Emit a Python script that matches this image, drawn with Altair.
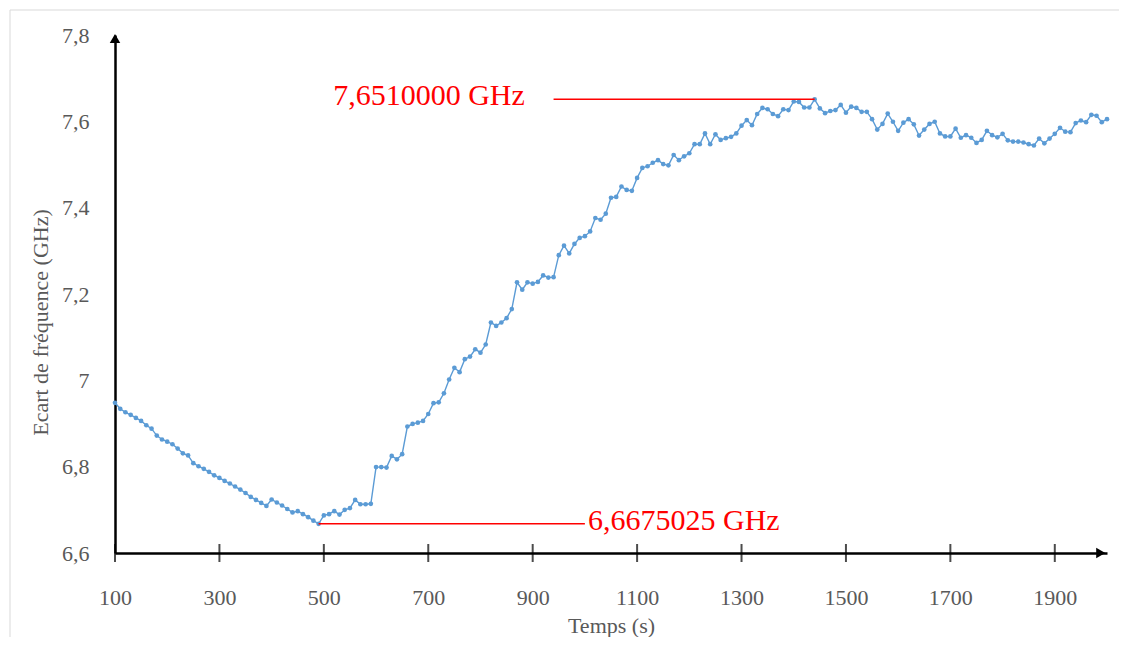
import altair as alt
import pandas as pd

# Sampling times (s), every 10 s from 100 to 2000
times = list(range(100, 2001, 10))

# Frequency deviation (GHz)
freq = [
    6.948, 6.934, 6.926, 6.920, 6.913, 6.906, 6.896, 6.888, 6.872, 6.863,
    6.858, 6.852, 6.842, 6.831, 6.826, 6.808, 6.801, 6.795, 6.788, 6.780,
    6.774, 6.767, 6.761, 6.754, 6.747, 6.739, 6.730, 6.723, 6.716, 6.709,
    6.724, 6.717, 6.710, 6.702, 6.694, 6.697, 6.690, 6.683, 6.675, 6.6675025,
    6.687, 6.690, 6.697, 6.689, 6.700, 6.704, 6.723, 6.713, 6.713, 6.714,
    6.799, 6.799, 6.798, 6.825, 6.817, 6.829, 6.893, 6.899, 6.902, 6.906,
    6.922, 6.947, 6.949, 6.970, 7.002, 7.029, 7.019, 7.049, 7.055, 7.072,
    7.064, 7.083, 7.134, 7.126, 7.134, 7.144, 7.165,
    7.227, 7.210, 7.227, 7.224, 7.228, 7.243, 7.238, 7.239, 7.290, 7.312,
    7.294, 7.316, 7.330, 7.334, 7.345, 7.376, 7.372, 7.386, 7.423, 7.425,
    7.449, 7.441, 7.439, 7.469, 7.492, 7.496, 7.504, 7.510, 7.501, 7.498,
    7.522, 7.510, 7.519, 7.526, 7.547, 7.547,
    7.572, 7.547, 7.570, 7.557, 7.561, 7.564, 7.572, 7.590, 7.603, 7.591,
    7.617, 7.631, 7.628, 7.617, 7.612, 7.628, 7.626, 7.646, 7.645, 7.632,
    7.632, 7.651, 7.630, 7.619, 7.624, 7.626, 7.638, 7.620, 7.634, 7.631,
    7.622, 7.622, 7.605, 7.581, 7.594, 7.618, 7.599, 7.578, 7.597, 7.605,
    7.593, 7.567, 7.581, 7.594, 7.599, 7.572, 7.565, 7.565, 7.583, 7.562,
    7.568, 7.562, 7.550, 7.557, 7.578, 7.568, 7.563, 7.571, 7.556, 7.553,
    7.553, 7.551, 7.547, 7.544, 7.560, 7.549, 7.560, 7.571, 7.585, 7.576,
    7.575, 7.596, 7.602, 7.598, 7.615, 7.613, 7.598, 7.605,
]

x_ticks = [100, 300, 500, 700, 900, 1100, 1300, 1500, 1700, 1900]
y_ticks = [6.6, 6.8, 7.0, 7.2, 7.4, 7.6, 7.8]

# Annotations: extreme points, leader-line far ends and labels
ann_t = [1440, 490]
ann_v = [7.651, 6.6675025]
ann_end = [940, 1000]
ann_text = ["7,6510000 GHz", "6,6675025 GHz"]
ann_text_t = [885, 1006]
ann_align = ["right", "left"]

FONT = "Liberation Serif"
GRAY = "#595959"
BLUE = "#5B9BD5"

df = pd.DataFrame({"t": times, "f": freq})
ann = pd.DataFrame({"t": ann_t, "v": ann_v, "end": ann_end,
                    "label": ann_text, "tt": ann_text_t, "align": ann_align})
ticks_df = pd.DataFrame({"t": x_ticks})

xscale = alt.Scale(domain=[100, 2000], nice=False, zero=False)
yscale = alt.Scale(domain=[6.6, 7.8], nice=False, zero=False)

x_enc = alt.X("t:Q", scale=xscale, title="Temps (s)",
              axis=alt.Axis(values=x_ticks, format="d", ticks=False, grid=False,
                            domainColor="black", domainWidth=2.5,
                            labelFont=FONT, labelFontSize=22, labelColor=GRAY,
                            labelPadding=34, labelFlush=False,
                            titleFont=FONT, titleFontSize=22, titleColor=GRAY,
                            titleFontWeight="normal", titlePadding=7))
y_enc = alt.Y("f:Q", scale=yscale, title="Ecart de fréquence (GHz)",
              axis=alt.Axis(values=y_ticks, ticks=False, grid=False,
                            domainColor="black", domainWidth=2.5,
                            labelFont=FONT, labelFontSize=22, labelColor=GRAY,
                            labelPadding=26,
                            labelExpr="replace(format(datum.value, '.1~f'), '.', ',')",
                            titleFont=FONT, titleFontSize=22, titleColor=GRAY,
                            titleFontWeight="normal",
                            titleX=-75, titleY=287, titleAngle=270,
                            titleAlign="center", titleBaseline="middle"))

border = alt.Chart(pd.DataFrame({"a": [0]})).mark_rect(
    fill=None, stroke="#d9d9d9", strokeWidth=1
).encode(x=alt.value(-105), x2=alt.value(1006), y=alt.value(-25), y2=alt.value(640))

line = alt.Chart(df).mark_line(color=BLUE, strokeWidth=1.4).encode(x=x_enc, y=y_enc)
pts = alt.Chart(df).mark_circle(color=BLUE, size=22, opacity=1).encode(x="t:Q", y="f:Q")

xt = alt.Chart(ticks_df).mark_tick(orient="vertical", size=18, thickness=2, color="black").encode(
    x="t:Q", y=alt.datum(6.6))

arrow_up = alt.Chart(pd.DataFrame({"a": [0]})).mark_point(
    shape="triangle-up", filled=True, color="black", size=110, opacity=1
).encode(x=alt.datum(100), y=alt.datum(7.792))
arrow_right = alt.Chart(pd.DataFrame({"a": [0]})).mark_point(
    shape="triangle-right", filled=True, color="black", size=110, opacity=1
).encode(x=alt.datum(1988), y=alt.datum(6.6))

rules = alt.Chart(ann).mark_rule(color="red", strokeWidth=1.5).encode(
    x="t:Q", x2="end:Q", y="v:Q")
txt_r = alt.Chart(ann[ann["align"] == "right"]).mark_text(
    color="red", font=FONT, fontSize=30, align="right", baseline="middle", dy=-3
).encode(x="tt:Q", y="v:Q", text="label:N")
txt_l = alt.Chart(ann[ann["align"] == "left"]).mark_text(
    color="red", font=FONT, fontSize=30, align="left", baseline="middle", dy=-3
).encode(x="tt:Q", y="v:Q", text="label:N")

chart = alt.layer(border, line, pts, rules, txt_r, txt_l, xt, arrow_up, arrow_right).properties(
    width=992, height=518,
    padding={"left": 107, "top": 27, "right": 12, "bottom": 84},
    autosize=alt.AutoSizeParams(type="none"),
    background="white",
).configure_view(stroke=None)

chart.save("out.html", embed_options={"renderer": "svg", "actions": False})
